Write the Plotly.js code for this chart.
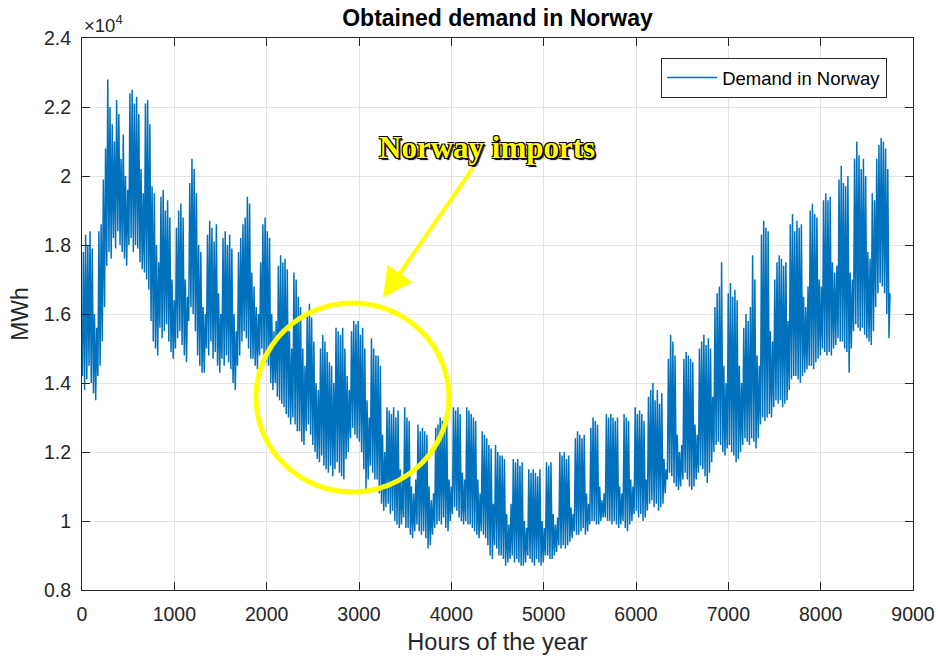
<!DOCTYPE html>
<html>
<head>
<meta charset="utf-8">
<script src="https://cdn.plot.ly/plotly-3.0.1.min.js"></script>
<style>html,body{margin:0;padding:0;background:#fff;}#chart{width:938px;height:661px;}</style>
</head>
<body>
<div id="chart"></div>
<script>
// Daily peak (daytime) and trough (night) demand, in units of 10^4 MWh, one value per day (365 days)
const dailyHigh = [
1.78,1.83,1.80,1.84,1.79,1.60,1.56,
1.84,1.86,1.99,2.08,2.28,2.20,2.15,
2.10,2.22,2.18,2.05,2.12,2.00,1.96,
2.24,2.25,2.21,2.23,2.18,2.02,1.95,
2.21,2.22,2.15,1.97,1.95,1.80,1.75,
1.94,1.96,1.90,1.93,1.88,1.70,1.64,
1.85,1.90,1.92,1.88,1.70,1.65,1.98,
2.05,2.02,1.95,1.80,1.78,1.62,1.60,
1.83,1.87,1.85,1.81,1.86,1.66,1.60,
1.82,1.84,1.80,1.83,1.79,1.60,1.55,
1.78,1.82,1.86,1.88,1.94,1.92,1.72,
1.68,1.62,1.60,1.75,1.86,1.88,1.84,
1.82,1.60,1.55,1.58,1.74,1.77,1.75,
1.76,1.73,1.55,1.50,1.72,1.70,1.65,
1.62,1.50,1.45,1.60,1.63,1.59,1.52,
1.40,1.38,1.50,1.54,1.52,1.49,1.46,
1.45,1.40,1.56,1.55,1.54,1.56,1.50,
1.42,1.38,1.55,1.58,1.57,1.58,1.54,
1.56,1.50,1.35,1.30,1.53,1.50,1.48,
1.48,1.45,1.25,1.20,1.33,1.32,1.31,
1.33,1.30,1.32,1.15,1.12,1.33,1.30,
1.29,1.10,1.08,1.12,1.28,1.26,1.27,
1.26,1.25,1.10,1.06,1.08,1.27,1.28,
1.30,1.29,1.30,1.28,1.12,1.10,1.33,
1.32,1.33,1.31,1.14,1.12,1.33,1.32,
1.31,1.30,1.29,1.12,1.08,1.26,1.25,
1.24,1.22,1.21,1.05,1.22,1.20,1.19,
1.19,1.18,1.02,0.99,1.05,1.18,1.17,
1.18,1.16,1.17,1.00,0.98,1.15,1.14,
1.15,1.14,1.13,1.15,1.00,0.98,1.17,
1.16,1.17,1.02,0.99,1.01,1.20,1.19,
1.20,1.18,1.19,1.04,1.02,1.24,1.26,
1.25,1.24,1.25,1.08,1.05,1.27,1.30,
1.29,1.28,1.10,1.06,1.08,1.31,1.30,
1.31,1.30,1.29,1.30,1.10,1.08,1.31,
1.30,1.29,1.12,1.10,1.33,1.31,1.32,
1.31,1.29,1.12,1.36,1.38,1.40,1.35,
1.38,1.34,1.37,1.18,1.15,1.47,1.54,
1.52,1.48,1.25,1.20,1.22,1.47,1.49,
1.48,1.47,1.46,1.28,1.25,1.50,1.52,
1.54,1.51,1.53,1.50,1.36,1.62,1.66,
1.68,1.75,1.45,1.40,1.66,1.69,1.65,
1.67,1.64,1.45,1.40,1.56,1.60,1.58,
1.62,1.77,1.70,1.48,1.45,1.83,1.87,
1.85,1.84,1.55,1.52,1.70,1.75,1.77,
1.76,1.74,1.75,1.58,1.86,1.89,1.84,
1.87,1.85,1.86,1.65,1.62,1.68,1.90,
1.92,1.89,1.88,1.70,1.68,1.93,1.95,
1.93,1.94,1.75,1.72,1.74,1.99,2.03,
1.98,1.97,2.00,1.72,1.70,2.05,2.10,
2.06,2.02,2.05,2.00,1.78,1.76,1.95,
1.93,2.05,2.09,2.11,2.10,2.08,2.02,
1.66
];
const dailyLow = [
1.42,1.38,1.41,1.45,1.40,1.37,1.35,
1.42,1.45,1.52,1.62,1.74,1.78,1.76,
1.82,1.79,1.84,1.80,1.78,1.76,1.74,
1.80,1.82,1.78,1.80,1.79,1.75,1.73,
1.72,1.70,1.67,1.58,1.52,1.50,1.48,
1.56,1.53,1.55,1.57,1.52,1.49,1.47,
1.50,1.53,1.55,1.51,1.48,1.46,1.58,
1.62,1.60,1.55,1.48,1.45,1.43,1.43,
1.50,1.48,1.52,1.47,1.49,1.45,1.43,
1.47,1.45,1.48,1.46,1.44,1.40,1.38,
1.45,1.48,1.52,1.55,1.53,1.50,1.47,
1.47,1.45,1.44,1.48,1.50,1.48,1.46,
1.45,1.40,1.38,1.40,1.36,1.35,1.34,
1.33,1.31,1.30,1.28,1.30,1.28,1.26,
1.26,1.23,1.22,1.26,1.28,1.25,1.22,
1.20,1.18,1.17,1.19,1.16,1.15,1.14,
1.16,1.13,1.15,1.17,1.14,1.13,1.12,
1.18,1.20,1.24,1.27,1.25,1.24,1.23,
1.20,1.15,1.09,1.12,1.16,1.14,1.12,
1.12,1.08,1.05,1.03,1.04,1.05,1.02,
1.03,1.00,0.99,0.98,0.99,1.01,0.98,
0.98,0.96,0.95,0.97,0.99,0.97,0.96,
0.97,0.95,0.92,0.93,0.96,0.98,0.99,
1.00,0.99,1.01,0.98,0.97,1.00,1.02,
1.04,1.03,1.01,1.00,0.99,1.00,0.99,
0.99,0.98,0.97,0.96,0.95,0.97,0.96,
0.95,0.93,0.90,0.89,0.93,0.92,0.90,
0.90,0.89,0.87,0.88,0.89,0.90,0.88,
0.89,0.88,0.87,0.87,0.88,0.90,0.89,
0.88,0.87,0.89,0.88,0.87,0.88,0.90,
0.90,0.89,0.89,0.90,0.91,0.93,0.92,
0.93,0.92,0.93,0.94,0.95,0.97,0.96,
0.96,0.97,0.98,0.96,0.97,0.99,1.00,
1.00,0.99,0.99,1.00,1.01,1.01,1.00,
1.00,0.99,1.00,0.99,0.98,0.99,1.00,
0.98,0.97,0.99,1.00,1.02,1.03,1.01,
1.02,1.00,1.01,1.03,1.05,1.06,1.04,
1.05,1.03,1.04,1.05,1.08,1.12,1.14,
1.13,1.11,1.10,1.09,1.10,1.12,1.14,
1.12,1.10,1.09,1.10,1.12,1.14,1.16,
1.15,1.13,1.11,1.14,1.17,1.20,1.22,
1.23,1.22,1.20,1.19,1.21,1.22,1.20,
1.19,1.17,1.18,1.20,1.22,1.24,1.23,
1.22,1.24,1.23,1.21,1.24,1.28,1.30,
1.29,1.30,1.31,1.30,1.33,1.35,1.34,
1.35,1.33,1.34,1.35,1.38,1.41,1.42,
1.42,1.41,1.40,1.42,1.43,1.44,1.45,
1.45,1.44,1.46,1.47,1.48,1.50,1.49,
1.48,1.49,1.48,1.50,1.51,1.53,1.52,
1.52,1.50,1.49,1.43,1.50,1.55,1.57,
1.56,1.55,1.56,1.54,1.53,1.52,1.51,
1.55,1.62,1.66,1.69,1.68,1.66,1.60,
1.53
];
const seriesName = 'Demand in Norway';
const xTickVals = [0,1000,2000,3000,4000,5000,6000,7000,8000,9000];
const yTickVals = [0.8,1.0,1.2,1.4,1.6,1.8,2.0,2.2,2.4];
const yTickText = ['0.8','1','1.2','1.4','1.6','1.8','2','2.2','2.4'];

// hour-of-year sequence: night trough then daytime peak for each day
const hours = [], demand = [];
for (let d = 0; d < dailyHigh.length; d++) {
  hours.push(d * 24 + 4);  demand.push(dailyLow[d]);
  hours.push(d * 24 + 15); demand.push(dailyHigh[d]);
}

const axisCol = '#262626';
const sans = 'Liberation Sans, Arial, sans-serif';
const tickFont = {family: sans, size: 19.5, color: axisCol};

const trace = {
  x: hours, y: demand, type: 'scatter', mode: 'lines', name: seriesName,
  line: {color: '#0072BD', width: 1.5}
};

const layout = {
  width: 938, height: 661,
  paper_bgcolor: '#ffffff', plot_bgcolor: '#ffffff',
  margin: {l: 82, r: 25, t: 38, b: 71},
  title: {
    text: 'Obtained demand in Norway',
    font: {family: sans, size: 23, color: '#000', weight: 'bold'},
    x: 0.5, xref: 'paper', xanchor: 'center', y: 1 - 18/661, yref: 'container', yanchor: 'middle'
  },
  xaxis: {
    range: [0, 9000], tickvals: xTickVals, ticktext: xTickVals.map(String),
    showline: true, linecolor: axisCol, linewidth: 1, mirror: 'allticks',
    ticks: 'inside', ticklen: 8, tickcolor: axisCol, tickwidth: 1,
    showgrid: true, gridcolor: '#e3e3e3', gridwidth: 1, zeroline: false,
    tickfont: tickFont, ticklabelstandoff: 7,
    title: {text: 'Hours of the year', font: {family: sans, size: 23.5, color: axisCol}, standoff: 9}
  },
  yaxis: {
    range: [0.8, 2.4], tickvals: yTickVals, ticktext: yTickText,
    showline: true, linecolor: axisCol, linewidth: 1, mirror: 'allticks',
    ticks: 'inside', ticklen: 8, tickcolor: axisCol, tickwidth: 1,
    showgrid: true, gridcolor: '#e3e3e3', gridwidth: 1, zeroline: false,
    tickfont: tickFont, ticklabelstandoff: 6,
    title: {text: 'MWh', font: {family: sans, size: 23, color: axisCol}, standoff: 8}
  },
  showlegend: true,
  legend: {
    x: 0.697, y: 0.964, xanchor: 'left', yanchor: 'top',
    bgcolor: '#ffffff', bordercolor: axisCol, borderwidth: 1,
    font: {family: sans, size: 18.5, color: '#000'},
    itemwidth: 50, tracegroupgap: 0
  },
  shapes: [{
    type: 'circle', xref: 'paper', yref: 'paper',
    x0: 0.2094, x1: 0.4416, y0: 0.1775, y1: 0.52,
    line: {color: '#FFFF00', width: 5}
  }],
  annotations: [
    {
      text: '×10<sup>4</sup>', xref: 'paper', yref: 'paper', x: 0, y: 1,
      xanchor: 'left', yanchor: 'bottom', showarrow: false, yshift: 0,
      font: {family: sans, size: 18.5, color: axisCol}
    },
    {
      text: 'Norway imports', xref: 'paper', yref: 'paper', x: 0.362, y: 0.529,
      showarrow: true, axref: 'pixel', ayref: 'pixel', ax: 104, ay: -150,
      arrowcolor: '#FFFF00', arrowwidth: 4, arrowhead: 2, arrowsize: 1.5, standoff: 0, startstandoff: 2,
      font: {family: 'Liberation Serif, Times New Roman, serif', size: 31, color: '#FFFF00', weight: 'bold',
             shadow: '-1px -1px 0 #000, 1px -1px 0 #000, -1px 1px 0 #000, 1px 1px 0 #000, 2px 2px 1px #000'}
    }
  ]
};

Plotly.newPlot('chart', [trace], layout, {displayModeBar: false, responsive: false});
</script>
</body>
</html>
